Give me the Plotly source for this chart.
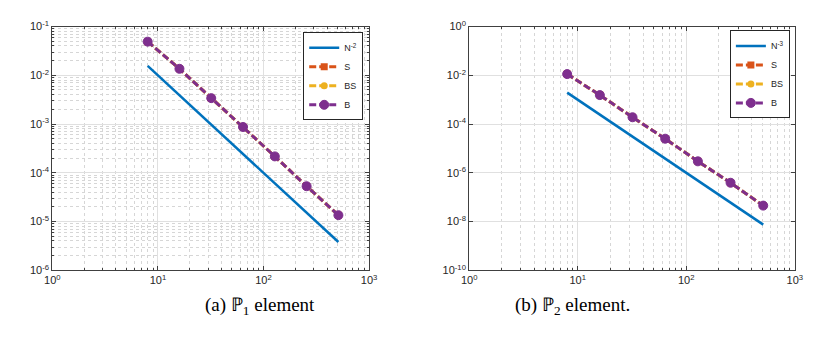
import plotly.graph_objects as go

# mesh sizes
N = [8, 16, 32, 64, 128, 256, 512]

# (a) P1 element
ref_p1 = [1.56e-2, 3.9e-3, 9.77e-4, 2.44e-4, 6.1e-5, 1.53e-5, 3.8e-6]
err_p1 = [4.9e-2, 1.36e-2, 3.4e-3, 8.7e-4, 2.17e-4, 5.3e-5, 1.35e-5]

# (b) P2 element
ref_p2 = [1.95e-3, 2.44e-4, 3.05e-5, 3.81e-6, 4.77e-7, 5.96e-8, 7.45e-9]
err_p2 = [1.12e-2, 1.54e-3, 1.9e-4, 2.5e-5, 2.95e-6, 3.9e-7, 4.5e-8]

# tick labels
x_ticks = [1, 10, 100, 1000]
x_labels = ["10<sup>0</sup>", "10<sup>1</sup>", "10<sup>2</sup>", "10<sup>3</sup>"]
y1_ticks = [1e-6, 1e-5, 1e-4, 1e-3, 1e-2, 1e-1]
y1_labels = ["10<sup>-6</sup>", "10<sup>-5</sup>", "10<sup>-4</sup>",
             "10<sup>-3</sup>", "10<sup>-2</sup>", "10<sup>-1</sup>"]
y2_ticks = [1e-10, 1e-8, 1e-6, 1e-4, 1e-2, 1]
y2_labels = ["10<sup>-10</sup>", "10<sup>-8</sup>", "10<sup>-6</sup>",
             "10<sup>-4</sup>", "10<sup>-2</sup>", "10<sup>0</sup>"]

# minor ticks 2..9 inside every decade
x_minor = [m * 10 ** e for e in range(0, 3) for m in range(2, 10)]
y1_minor = [m * 10.0 ** e for e in range(-6, -1) for m in range(2, 10)]

blue = "#0072BD"
orange = "#D95319"
yellow = "#EDB120"
purple = "#7E2F8E"

fig = go.Figure()


def add_panel(ref, err, ref_name, xa, ya, leg):
    fig.add_trace(go.Scatter(x=N, y=ref, mode="lines", name=ref_name,
                             line=dict(color=blue, width=2.5),
                             xaxis=xa, yaxis=ya, legend=leg))
    # S, BS and B give the same errors, so they sit on top of each other
    fig.add_trace(go.Scatter(x=N, y=err, mode="lines+markers", name="S",
                             line=dict(color=orange, width=3, dash="7px,3px"),
                             marker=dict(symbol="square", size=7, color=orange),
                             xaxis=xa, yaxis=ya, legend=leg))
    fig.add_trace(go.Scatter(x=N, y=err, mode="lines+markers", name="BS",
                             line=dict(color=yellow, width=3, dash="7px,3px"),
                             marker=dict(symbol="circle", size=7, color=yellow),
                             xaxis=xa, yaxis=ya, legend=leg))
    fig.add_trace(go.Scatter(x=N, y=err, mode="lines+markers", name="B",
                             line=dict(color=purple, width=3, dash="7px,3px"),
                             marker=dict(symbol="circle", size=9, color=purple,
                                         line=dict(color=purple, width=1)),
                             xaxis=xa, yaxis=ya, legend=leg))


add_panel(ref_p1, err_p1, "N<sup>-2</sup>", "x", "y", "legend")
add_panel(ref_p2, err_p2, "N<sup>-3</sup>", "x2", "y2", "legend2")

tick_font = dict(family="Liberation Sans, Arial", size=11, color="#262626")


def minor_grid(vals):
    return dict(tickmode="array", tickvals=vals, ticks="inside", ticklen=2,
                tickcolor="#404040", showgrid=True, gridcolor="#d6d6d6",
                griddash="dot", gridwidth=1)


no_minor = dict(ticks="", showgrid=False)

axis_common = dict(type="log", showline=True,
                   linecolor="#404040", linewidth=1, mirror="allticks",
                   ticks="inside", ticklen=4, tickcolor="#404040",
                   showgrid=True, gridcolor="#e0e0e0", gridwidth=1,
                   zeroline=False, tickfont=tick_font)

legend_common = dict(bgcolor="white", bordercolor="#262626", borderwidth=1,
                     font=dict(family="Liberation Sans, Arial", size=9, color="#262626"),
                     xanchor="right", yanchor="top", itemwidth=30,
                     tracegroupgap=0)

# the page puts the figure 8 px in from the top left corner
W, H, OFF = 835, 346, 8


def px(x):
    return (x - OFF) / W


def py(y):
    return 1 - (y - OFF) / H


cap_font = dict(family="Liberation Serif, Times New Roman", size=19, color="black")

fig.update_layout(
    width=W, height=H,
    margin=dict(l=0, r=0, t=0, b=0),
    paper_bgcolor="white", plot_bgcolor="white",
    xaxis=dict(axis_common, domain=[px(45), px(368)], range=[0, 3],
               tickvals=x_ticks, ticktext=x_labels, minor=minor_grid(x_minor),
               anchor="y"),
    yaxis=dict(axis_common, domain=[py(273), py(19)], range=[-6, -1],
               tickvals=y1_ticks, ticktext=y1_labels, minor=minor_grid(y1_minor),
               anchor="x"),
    xaxis2=dict(axis_common, domain=[px(470), px(802)], range=[0, 3],
                tickvals=x_ticks, ticktext=x_labels, minor=minor_grid(x_minor),
                anchor="y2"),
    yaxis2=dict(axis_common, domain=[py(273), py(19)], range=[-10, 0],
                tickvals=y2_ticks, ticktext=y2_labels, minor=no_minor, anchor="x2"),
    legend=dict(legend_common, x=px(362), y=py(25)),
    legend2=dict(legend_common, x=px(797), y=py(23)),
    annotations=[
        dict(text="(a) ℙ<sub>1</sub> element", x=px(199), y=py(325),
             xref="paper", yref="paper", showarrow=False, font=cap_font),
        dict(text="(b) ℙ<sub>2</sub> element.", x=px(636), y=py(325),
             xref="paper", yref="paper", showarrow=False, font=cap_font),
    ],
)

fig.write_html("out.html")
